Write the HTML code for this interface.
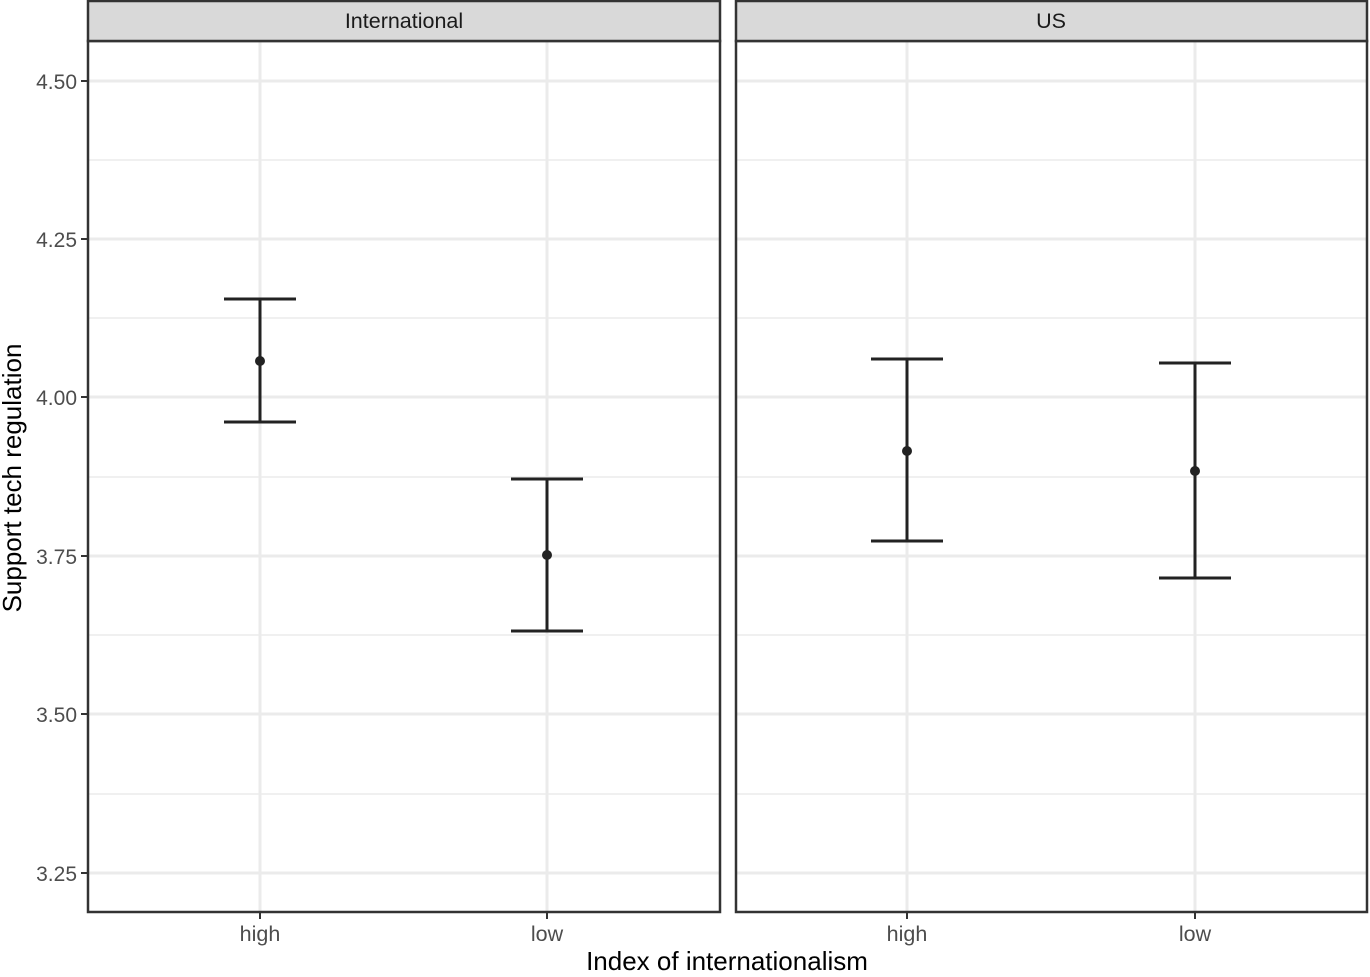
<!DOCTYPE html>
<html><head><style>body{margin:0;background:#fff}</style></head><body>
<svg width="1370" height="972" xmlns="http://www.w3.org/2000/svg" font-family="Liberation Sans, sans-serif">
<rect width="1370" height="972" fill="#fff"/>
<g id="p1">
<g stroke="#ebebeb" stroke-width="1.5">
<line x1="87" x2="720" y1="160" y2="160"/><line x1="87" x2="720" y1="318" y2="318"/><line x1="87" x2="720" y1="477" y2="477"/><line x1="87" x2="720" y1="635" y2="635"/><line x1="87" x2="720" y1="794" y2="794"/>
</g>
<g stroke="#ebebeb" stroke-width="3">
<line x1="87" x2="720" y1="81" y2="81"/><line x1="87" x2="720" y1="239" y2="239"/><line x1="87" x2="720" y1="397" y2="397"/><line x1="87" x2="720" y1="556" y2="556"/><line x1="87" x2="720" y1="714" y2="714"/><line x1="87" x2="720" y1="873" y2="873"/>
<line x1="260" x2="260" y1="41" y2="912"/><line x1="547" x2="547" y1="41" y2="912"/>
</g>
<g stroke="#222" stroke-width="3" fill="none">
<line x1="260" x2="260" y1="299" y2="422"/><line x1="224" x2="296" y1="299" y2="299"/><line x1="224" x2="296" y1="422" y2="422"/>
<line x1="547" x2="547" y1="479" y2="631"/><line x1="511" x2="583" y1="479" y2="479"/><line x1="511" x2="583" y1="631" y2="631"/>
</g>
<circle cx="260" cy="361" r="5" fill="#222"/><circle cx="547" cy="555" r="5" fill="#222"/>
<rect x="88" y="41" width="632" height="871" fill="none" stroke="#333" stroke-width="2.5"/>
<rect x="88" y="1" width="632" height="40" fill="#d9d9d9" stroke="#333" stroke-width="2.5"/>
<text x="404" y="28" font-size="21.5" fill="#1a1a1a" text-anchor="middle">International</text>
</g>
<g id="p2">
<g stroke="#ebebeb" stroke-width="1.5">
<line x1="735" x2="1367" y1="160" y2="160"/><line x1="735" x2="1367" y1="318" y2="318"/><line x1="735" x2="1367" y1="477" y2="477"/><line x1="735" x2="1367" y1="635" y2="635"/><line x1="735" x2="1367" y1="794" y2="794"/>
</g>
<g stroke="#ebebeb" stroke-width="3">
<line x1="735" x2="1367" y1="81" y2="81"/><line x1="735" x2="1367" y1="239" y2="239"/><line x1="735" x2="1367" y1="397" y2="397"/><line x1="735" x2="1367" y1="556" y2="556"/><line x1="735" x2="1367" y1="714" y2="714"/><line x1="735" x2="1367" y1="873" y2="873"/>
<line x1="907" x2="907" y1="41" y2="912"/><line x1="1195" x2="1195" y1="41" y2="912"/>
</g>
<g stroke="#222" stroke-width="3" fill="none">
<line x1="907" x2="907" y1="359" y2="541"/><line x1="871" x2="943" y1="359" y2="359"/><line x1="871" x2="943" y1="541" y2="541"/>
<line x1="1195" x2="1195" y1="363" y2="578"/><line x1="1159" x2="1231" y1="363" y2="363"/><line x1="1159" x2="1231" y1="578" y2="578"/>
</g>
<circle cx="907" cy="451" r="5" fill="#222"/><circle cx="1195" cy="471" r="5" fill="#222"/>
<rect x="736" y="41" width="631" height="871" fill="none" stroke="#333" stroke-width="2.5"/>
<rect x="736" y="1" width="631" height="40" fill="#d9d9d9" stroke="#333" stroke-width="2.5"/>
<text x="1051" y="28" font-size="21.5" fill="#1a1a1a" text-anchor="middle">US</text>
</g>
<g stroke="#333" stroke-width="2">
<line x1="81" x2="87" y1="81" y2="81"/><line x1="81" x2="87" y1="239" y2="239"/><line x1="81" x2="87" y1="397" y2="397"/><line x1="81" x2="87" y1="556" y2="556"/><line x1="81" x2="87" y1="714" y2="714"/><line x1="81" x2="87" y1="873" y2="873"/>
<line x1="260" x2="260" y1="913" y2="919"/><line x1="547" x2="547" y1="913" y2="919"/><line x1="907" x2="907" y1="913" y2="919"/><line x1="1195" x2="1195" y1="913" y2="919"/>
</g>
<g font-size="21" fill="#4d4d4d" text-anchor="end">
<text x="77" y="89">4.50</text><text x="77" y="247">4.25</text><text x="77" y="405">4.00</text><text x="77" y="564">3.75</text><text x="77" y="722">3.50</text><text x="77" y="881">3.25</text>
</g>
<g font-size="21.5" fill="#4d4d4d" text-anchor="middle">
<text x="260" y="941">high</text><text x="547" y="941">low</text><text x="907" y="941">high</text><text x="1195" y="941">low</text>
</g>
<text x="727" y="970" font-size="26" fill="#000" text-anchor="middle">Index of internationalism</text>
<text transform="translate(21,478) rotate(-90)" font-size="26" fill="#000" text-anchor="middle">Support tech regulation</text>
</svg>
</body></html>
